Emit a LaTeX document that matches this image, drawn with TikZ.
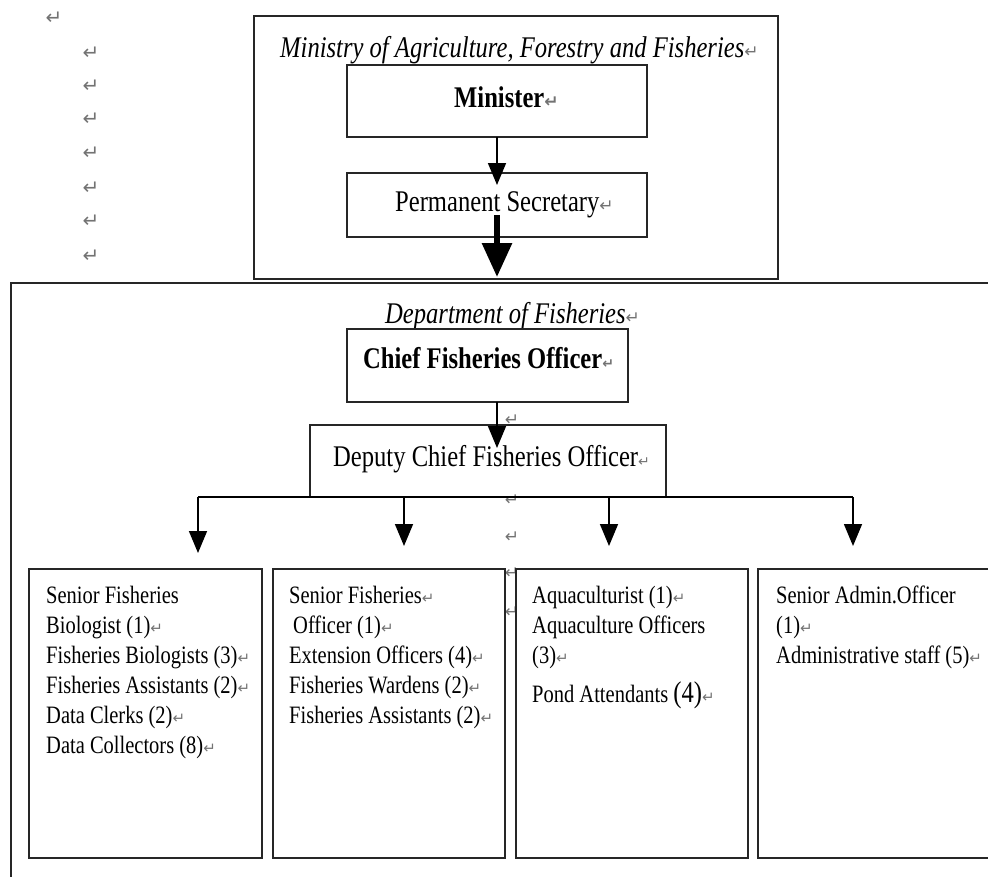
\documentclass[tikz,border=0pt]{standalone}
\usepackage{fontspec}
\setmainfont{Liberation Serif}[FakeStretch=0.82]
\newfontfamily\markfont{DejaVu Sans}
\usetikzlibrary{arrows.meta}
\definecolor{markgray}{gray}{0.45}
\definecolor{framegray}{gray}{0.15}
% paragraph-end mark
\newcommand\retmark[1][15]{{\markfont\fontsize{#1}{#1}\selectfont\textcolor{markgray}{↵}}}
\begin{document}
\begin{tikzpicture}[x=1pt,y=-1pt,
  frame/.style={draw=framegray,line width=1.7pt,inner sep=0pt,outer sep=0pt},
  arr/.style={draw=black,line width=1.6pt,-{Triangle[width=18pt,length=22pt]}},
  heavyarr/.style={draw=black,line width=6pt,-{Triangle[width=29pt,length=34pt]}},
  bus/.style={draw=black,line width=1.6pt},
  titletext/.style={inner sep=0pt,anchor=base west,font=\fontsize{30}{36}\selectfont\itshape},
  headtext/.style={inner sep=0pt,anchor=base west,font=\fontsize{30}{36}\selectfont\bfseries},
  plaintext/.style={inner sep=0pt,anchor=base west,font=\fontsize{30}{36}\selectfont},
  body/.style={inner sep=0pt,anchor=base west,font=\fontsize{25}{30}\selectfont},
  pmark/.style={inner sep=0pt,text=markgray,font=\markfont\fontsize{20}{20}\selectfont},
  smallmark/.style={inner sep=0pt,text=markgray,font=\markfont\fontsize{17}{17}\selectfont}]
\clip (0,0) rectangle (988,876);

% empty paragraph marks down the left margin
\node[pmark] (lm0) at (54,18) {↵};
\foreach \yy [count=\i] in {53,86,119,153,188,221,256}
  \node[pmark] (lm\i) at (91,\yy) {↵};

% ministry frame
\node[frame,minimum width=524pt,minimum height=263pt] (ministry) at (516,147.5) {};
\node[titletext] (ministrytitle) at (280,57) {Ministry of Agriculture, Forestry and Fisheries\retmark[17]};
\node[frame,minimum width=300pt,minimum height=72pt] (minister) at (497,101) {};
\node[headtext] (ministerlabel) at (454,107) {Minister\retmark[17]};
\node[frame,minimum width=300pt,minimum height=64pt] (permsec) at (497,205) {};
\node[plaintext] (permseclabel) at (395,211) {Permanent Secretary\retmark[17]};

\draw[arr] (minister.south) -- ([yshift=-12pt]permsec.north);
\draw[heavyarr] ([yshift=-10pt]permsec.center) -- ([yshift=2pt]permsec.center |- ministry.south);

% department frame
\node[frame,minimum width=1000pt,minimum height=620pt] (dept) at (511,593) {};
\node[titletext] (depttitle) at (385,323) {Department of Fisheries\retmark[17]};
\node[frame,minimum width=281pt,minimum height=73pt] (chief) at (487.5,365.5) {};
\node[headtext] (chieflabel) at (363,368) {Chief Fisheries Officer\retmark[14]};
\node[frame,minimum width=356pt,minimum height=72pt] (deputy) at (488,461) {};
\node[plaintext] (deputylabel) at (333,466) {Deputy Chief Fisheries Officer\retmark[14]};

% stray marks in the middle column
\foreach \yy [count=\i] in {420,500,537,573,612}
  \node[smallmark] (mm\i) at (512,\yy) {↵};

\draw[arr] (chief.south -| minister.south) -- ([yshift=-23pt]deputy.north -| minister.south);

% section boxes
\node[frame,minimum width=233pt,minimum height=289pt] (b1) at (145.5,713.5) {};
\node[frame,minimum width=232pt,minimum height=289pt] (b2) at (389,713.5) {};
\node[frame,minimum width=232pt,minimum height=289pt] (b3) at (632,713.5) {};
\node[frame,minimum width=252pt,minimum height=289pt] (b4) at (884,713.5) {};

% distribution bus
\coordinate (bus1) at (198,497);
\coordinate (bus2) at (404,497);
\coordinate (bus3) at (609,497);
\coordinate (bus4) at (853,497);
\draw[bus] (bus1) -- (bus4);
\draw[arr] (bus1) -- ([yshift=16pt]bus1 |- b1.north);
\draw[arr] (bus2) -- ([yshift=23pt]bus2 |- b2.north);
\draw[arr] (bus3) -- ([yshift=23pt]bus3 |- b3.north);
\draw[arr] (bus4) -- ([yshift=23pt]bus4 |- b4.north);

% box contents
\foreach \txt [count=\i] in {{Senior Fisheries},{Biologist (1)\retmark},{Fisheries Biologists (3)\retmark},{Fisheries Assistants (2)\retmark},{Data Clerks (2)\retmark},{Data Collectors (8)\retmark}}
  \node[body] (bl\i) at ([xshift=17pt,yshift={-34pt-30pt*(\i-1)}]b1.north west) {\txt};
\foreach \txt [count=\i] in {{Senior Fisheries\retmark},{\hspace{4pt}Officer (1)\retmark},{Extension Officers (4)\retmark},{Fisheries Wardens (2)\retmark},{Fisheries Assistants (2)\retmark}}
  \node[body] (bm\i) at ([xshift=16pt,yshift={-34pt-30pt*(\i-1)}]b2.north west) {\txt};
\foreach \txt [count=\i] in {{Aquaculturist (1)\retmark},{Aquaculture Officers},{(3)\retmark}}
  \node[body] (bn\i) at ([xshift=16pt,yshift={-34pt-30pt*(\i-1)}]b3.north west) {\txt};
\node[body] (bn4) at ([xshift=16pt,yshift=-133pt]b3.north west) {Pond Attendants {\fontsize{30}{30}\selectfont(4)}\retmark};
\foreach \txt [count=\i] in {{Senior Admin.Officer},{(1)\retmark},{Administrative staff (5)\retmark}}
  \node[body] (bo\i) at ([xshift=18pt,yshift={-34pt-30pt*(\i-1)}]b4.north west) {\txt};
\end{tikzpicture}
\end{document}
